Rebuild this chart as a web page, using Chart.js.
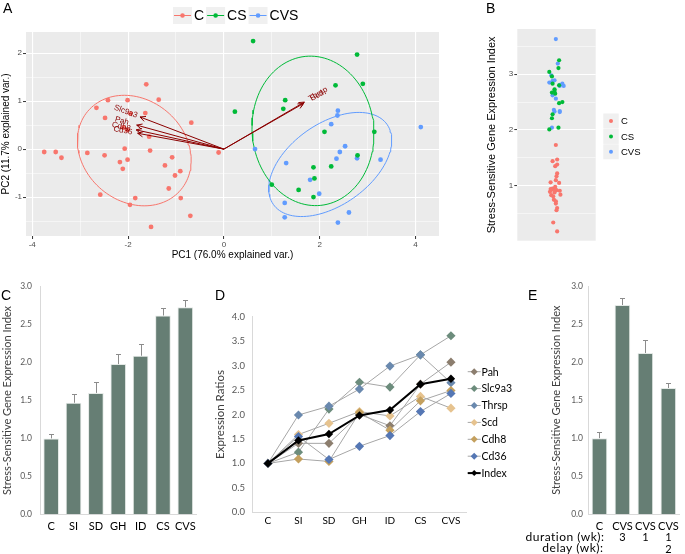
<!DOCTYPE html>
<html>
<head>
<meta charset="utf-8">
<script src="https://cdn.jsdelivr.net/npm/chart.js@4.4.1/dist/chart.umd.min.js"></script>
<style>
  body { margin: 0; background: #fff; }
  #wrap { position: relative; width: 685px; height: 554px; overflow: hidden; }
  canvas { position: absolute; }
  .tag { position: absolute; font-family: 'Liberation Sans', Arial, sans-serif; font-size: 14px; color: #000; }
</style>
</head>
<body>
<div id="wrap">
  <canvas id="pca" width="450" height="265" style="left:0;top:0"></canvas>
  <canvas id="idx" width="225" height="250" style="left:460px;top:0"></canvas>
  <canvas id="barC" width="210" height="274" style="left:0;top:280px"></canvas>
  <canvas id="lineD" width="312" height="274" style="left:213px;top:280px"></canvas>
  <canvas id="barE" width="165" height="274" style="left:520px;top:280px"></canvas>
  <div class="tag" style="left:3px;top:0">A</div>
  <div class="tag" style="left:486px;top:0">B</div>
  <div class="tag" style="left:1px;top:287px">C</div>
  <div class="tag" style="left:215px;top:287px">D</div>
  <div class="tag" style="left:528px;top:287px">E</div>
</div>
<script>
// ---- A: PCA scores [PC1, PC2]
const scoresC = [[-3.75,-0.06],[-3.51,-0.06],[-3.39,-0.18],[-2.85,-0.08],[-2.66,0.86],[-2.58,-0.95],
  [-2.49,-0.13],[-2.48,0.65],[-2.42,1.02],[-2.17,-0.27],[-2.11,-0.41],[-2.07,0.01],[-2.01,1.02],
  [-2.01,-0.22],[-1.96,-1.16],[-1.95,0.74],[-1.85,-1.02],[-1.62,1.35],[-1.64,0.75],[-1.56,0.26],
  [-1.54,-0.03],[-1.52,-1.62],[-1.36,1.03],[-1.23,-0.34],[-1.15,-0.82],[-1.08,-0.17],[-1.02,-0.55],
  [-0.91,-0.46],[-0.90,-1.02],[-0.70,-1.39],[-0.68,0.55],[-0.11,-0.07],[-2.02,0.40],[-2.10,0.45]];
const scoresCS = [[0.61,2.25],[0.23,0.78],[1.00,-0.74],[1.24,0.84],[1.28,1.02],[1.56,-0.85],[1.87,-0.38],
  [1.89,-0.61],[1.87,-1.00],[2.10,0.36],[2.24,-0.36],[2.33,1.33],[2.78,1.97],[2.90,1.36],[2.79,-0.13],[3.14,0.36]];
const scoresCVS = [[0.65,0.00],[1.30,-0.29],[1.27,-1.12],[1.27,-1.42],[1.80,-0.64],[1.99,-0.93],[2.24,0.52],
  [2.35,-0.20],[2.37,0.70],[2.38,0.80],[2.42,-0.06],[2.53,0.06],[2.38,-1.53],[2.61,-1.32],[2.78,-0.19],
  [3.27,-0.22],[4.11,0.46]];
const groups = ['C', 'CS', 'CVS'];
// normal-data ellipses per group: centre, semi-axes, angle (deg)
const ellCx = [-1.87, 1.86, 2.22];
const ellCy = [-0.03, 0.38, -0.32];
const ellA = [1.27, 1.56, 1.45];
const ellB = [1.06, 1.27, 0.85];
const ellAngle = [-40, 96, 35];
// variable loadings
const geneArrows = ['Slc9a3', 'Pah', 'Cdh8', 'Cd36', 'Thrsp', 'Scd'];
const loadPC1 = [-1.75, -1.82, -1.83, -1.80, 1.68, 1.66];
const loadPC2 = [0.67, 0.50, 0.40, 0.33, 0.98, 0.95];
const pcaXTicks = [-4, -3, -2, -1, 0, 1, 2, 3, 4];
const pcaYTicks = [-1.5, -1, -0.5, 0, 0.5, 1, 1.5, 2];

// ---- B: index per animal [jitter, index]
const idxC = [[0.99,1.73],[1.01,1.47],[0.94,1.44],[1.01,1.38],[0.98,1.35],[1.01,1.22],[1.00,1.17],[0.99,1.10],
  [0.91,1.06],[1.04,1.05],[0.94,0.95],[0.91,0.94],[0.97,0.94],[1.00,0.92],[1.05,0.91],[0.90,0.89],[0.97,0.88],
  [1.06,0.84],[0.95,0.81],[0.96,0.75],[0.99,0.68],[1.01,0.60],[1.00,0.56],[0.95,0.34],[1.01,0.18],[0.93,0.93],
  [0.98,0.98],[0.92,0.83],[0.99,0.72]];
const idxCS = [[1.04,3.25],[1.03,3.11],[0.89,3.04],[0.93,2.96],[0.94,2.83],[0.97,2.73],[0.93,2.67],[0.98,2.65],
  [1.04,2.48],[1.09,2.50],[0.94,2.28],[0.93,2.21],[1.03,2.04],[0.89,2.01],[1.04,2.80],[0.97,2.70]];
const idxCVS = [[0.99,3.63],[1.02,3.19],[0.92,2.98],[0.89,2.85],[0.94,2.88],[1.09,2.83],[1.05,2.79],[1.11,2.79],
  [0.94,2.62],[0.99,2.56],[0.96,2.36],[0.97,2.33],[1.05,2.32],[0.93,2.04],[1.05,2.81],[0.97,2.89],[1.05,2.34]];
const idxYTicks = [0.5, 1, 1.5, 2, 2.5, 3, 3.5];

// ---- C: index by stressor
const cCats = ['C', 'SI', 'SD', 'GH', 'ID', 'CS', 'CVS'];
const cIndex = [1.00, 1.47, 1.60, 1.98, 2.09, 2.62, 2.73];
const cSem = [0.06, 0.11, 0.15, 0.13, 0.16, 0.10, 0.09];

// ---- D: expression ratios
const dCats = ['C', 'SI', 'SD', 'GH', 'ID', 'CS', 'CVS'];
const dPah = [1.00, 1.41, 1.41, 2.00, 1.77, 2.62, 3.07];
const dSlc9a3 = [1.00, 1.23, 2.11, 2.66, 2.56, 3.22, 3.61];
const dThrsp = [1.00, 1.99, 2.17, 2.52, 2.99, 3.22, 2.65];
const dScd = [1.00, 1.59, 1.82, 2.06, 1.97, 2.37, 2.13];
const dCdh8 = [1.00, 1.09, 1.04, 2.04, 1.68, 2.28, 2.49];
const dCd36 = [1.00, 1.55, 1.08, 1.35, 1.57, 2.06, 2.43];
const dIndex = [1.00, 1.47, 1.60, 1.98, 2.09, 2.62, 2.73];

// ---- E: duration / delay
const eGroup = ['C', 'CVS', 'CVS', 'CVS'];
const eDuration = ['', '3', '1', '1'];
const eDelay = ['', '', '', '2'];
const eIndex = [1.00, 2.75, 2.12, 1.66];
const eSem = [0.08, 0.09, 0.17, 0.06];

const GG = ['#F8766D', '#00BA38', '#619CFF'];
const SANS = "'Liberation Sans', Arial, sans-serif";
Chart.defaults.font.family = 'Lato, sans-serif';
Chart.defaults.animation = false;
Chart.defaults.plugins.legend.display = false;
Chart.defaults.plugins.tooltip.enabled = false;

const panelBg = {
  id: 'panelBg',
  beforeDraw(chart) {
    const a = chart.chartArea, ctx = chart.ctx;
    ctx.save(); ctx.fillStyle = '#EBEBEB';
    ctx.fillRect(a.left, a.top, a.right - a.left, a.bottom - a.top);
    ctx.restore();
  }
};

function ellipse(i) {
  const pts = [], th = ellAngle[i] * Math.PI / 180;
  for (let k = 0; k <= 120; k++) {
    const t = k / 120 * 2 * Math.PI;
    const u = ellA[i] * Math.cos(t), v = ellB[i] * Math.sin(t);
    pts.push({ x: ellCx[i] + u * Math.cos(th) - v * Math.sin(th), y: ellCy[i] + u * Math.sin(th) + v * Math.cos(th) });
  }
  return pts;
}
const toXY = arr => arr.map(p => ({ x: p[0], y: p[1] }));

const ggAxis = (min, max, ticks, isMajor, title, fit) => ({
  type: 'linear', min, max,
  afterBuildTicks: s => { s.ticks = ticks.map(v => ({ value: v })); },
  afterFit: fit,
  border: { display: false },
  grid: {
    color: '#fff', tickLength: 3, tickWidth: 1,
    lineWidth: c => (c.tick && isMajor(c.tick.value)) ? 1.1 : 0.5,
    tickColor: c => (c.tick && isMajor(c.tick.value)) ? '#333' : 'rgba(0,0,0,0)'
  },
  ticks: { color: '#4D4D4D', font: { family: SANS, size: 8 }, padding: 1, autoSkip: false,
    callback: v => isMajor(v) ? String(v) : '' },
  title: title
});

// ---------------- A
const pcaExtras = {
  id: 'pcaExtras',
  afterDatasetsDraw(chart) {
    const ctx = chart.ctx, xs = chart.scales.x, ys = chart.scales.y;
    const ox = xs.getPixelForValue(0), oy = ys.getPixelForValue(0);
    ctx.save();
    ctx.strokeStyle = '#8B0000'; ctx.fillStyle = '#8B0000'; ctx.lineWidth = 1;
    geneArrows.forEach((g, i) => {
      const ex = xs.getPixelForValue(loadPC1[i]), ey = ys.getPixelForValue(loadPC2[i]);
      const ang = Math.atan2(ey - oy, ex - ox);
      ctx.beginPath(); ctx.moveTo(ox, oy); ctx.lineTo(ex, ey);
      ctx.moveTo(ex, ey); ctx.lineTo(ex - 6 * Math.cos(ang - 0.45), ey - 6 * Math.sin(ang - 0.45));
      ctx.moveTo(ex, ey); ctx.lineTo(ex - 6 * Math.cos(ang + 0.45), ey - 6 * Math.sin(ang + 0.45));
      ctx.stroke();
      const lx = xs.getPixelForValue(loadPC1[i] * 1.17), ly = ys.getPixelForValue(loadPC2[i] * 1.17);
      let rot = ang; if (loadPC1[i] < 0) rot += Math.PI;
      ctx.save(); ctx.translate(lx, ly); ctx.rotate(rot);
      ctx.font = '8px ' + SANS; ctx.textAlign = 'center'; ctx.textBaseline = 'middle';
      ctx.fillText(g, 0, 0); ctx.restore();
    });
    ctx.restore();
  },
  afterDraw(chart) {
    const ctx = chart.ctx;
    ctx.save(); ctx.font = '14px ' + SANS; ctx.textBaseline = 'middle';
    let x = 173;
    groups.forEach((g, i) => {
      ctx.fillStyle = '#F0F0F0'; ctx.fillRect(x, 7, 19, 17);
      ctx.strokeStyle = GG[i]; ctx.lineWidth = 1;
      ctx.beginPath(); ctx.moveTo(x + 1, 15.5); ctx.lineTo(x + 18, 15.5); ctx.stroke();
      ctx.fillStyle = GG[i]; ctx.beginPath(); ctx.arc(x + 9.5, 15.5, 2.3, 0, 2 * Math.PI); ctx.fill();
      ctx.fillStyle = '#000'; ctx.fillText(g, x + 21, 16);
      x += 21 + ctx.measureText(g).width + 2;
    });
    ctx.restore();
  }
};

const scoreSets = [scoresC, scoresCS, scoresCVS];
new Chart(document.getElementById('pca'), {
  type: 'scatter',
  data: {
    datasets: [
      ...scoreSets.map((s, i) => ({ data: toXY(s), backgroundColor: GG[i], pointRadius: 2.4, borderWidth: 0 })),
      ...[0, 1, 2].map(i => ({ data: ellipse(i), showLine: true, borderColor: GG[i], borderWidth: 1, pointRadius: 0, fill: false }))
    ]
  },
  options: {
    responsive: false,
    layout: { padding: { top: 32, right: 11, left: 0, bottom: 0 } },
    scales: {
      x: ggAxis(-4.13, 4.49, pcaXTicks, v => v % 2 === 0,
        { display: true, text: 'PC1 (76.0% explained var.)', color: '#000', font: { family: SANS, size: 10 }, padding: { top: 0, bottom: 4 } },
        s => { s.height = 29; }),
      y: ggAxis(-1.81, 2.44, pcaYTicks, v => Number.isInteger(v),
        { display: true, text: 'PC2 (11.7% explained var.)', color: '#000', font: { family: SANS, size: 10 }, padding: { top: 0, bottom: 0 } },
        s => { s.width = 26; })
    }
  },
  plugins: [panelBg, pcaExtras]
});

// ---------------- B
const idxLegend = {
  id: 'idxLegend',
  afterDraw(chart) {
    const ctx = chart.ctx;
    ctx.save(); ctx.font = '9.5px ' + SANS; ctx.textBaseline = 'middle';
    groups.forEach((g, i) => {
      const y = 113.5 + i * 15.4;
      ctx.fillStyle = '#F0F0F0'; ctx.fillRect(143.3, y, 15.4, 15);
      ctx.fillStyle = GG[i]; ctx.beginPath(); ctx.arc(151, y + 7.5, 2, 0, 2 * Math.PI); ctx.fill();
      ctx.fillStyle = '#000'; ctx.fillText(g, 161, y + 8);
    });
    ctx.restore();
  }
};
new Chart(document.getElementById('idx'), {
  type: 'scatter',
  data: { datasets: [idxC, idxCS, idxCVS].map((s, i) => ({ data: toXY(s), backgroundColor: GG[i], pointRadius: 2.1, borderWidth: 0 })) },
  options: {
    responsive: false,
    layout: { padding: { top: 29, right: 89.3, left: 0, bottom: 9.3 } },
    scales: {
      x: { type: 'linear', min: 0.4, max: 1.6, display: false },
      y: ggAxis(0.014, 3.81, idxYTicks, v => Number.isInteger(v),
        { display: true, text: 'Stress-Sensitive Gene Expression Index', color: '#000', font: { family: SANS, size: 11 }, padding: { top: 25, bottom: 0 } },
        s => { s.width = 57.3; })
    }
  },
  plugins: [panelBg, idxLegend]
});

// ---------------- C and E bars
const errBars = sem => ({
  id: 'errBars',
  afterDatasetsDraw(chart) {
    const meta = chart.getDatasetMeta(0), ys = chart.scales.y, ctx = chart.ctx;
    const vals = chart.data.datasets[0].data;
    ctx.save(); ctx.strokeStyle = '#8C8C8C'; ctx.lineWidth = 1;
    meta.data.forEach((bar, i) => {
      const x = Math.round(bar.x) + 0.5;
      const y0 = ys.getPixelForValue(vals[i]), y1 = Math.round(ys.getPixelForValue(vals[i] + sem[i])) + 0.5;
      ctx.beginPath(); ctx.moveTo(x, y0); ctx.lineTo(x, y1);
      ctx.moveTo(x - 2.5, y1); ctx.lineTo(x + 2.5, y1); ctx.stroke();
    });
    ctx.restore();
  }
});

function excelY(title, w, tickPad, titlePad) {
  return {
    min: 0, max: 3,
    afterFit: s => { s.width = w; s.paddingTop = 0; s.paddingBottom = 0; },
    grid: { display: false, drawTicks: false },
    border: { display: true, color: '#D9D9D9' },
    ticks: { stepSize: 0.5, color: '#595959', font: { size: 8.5 }, padding: tickPad, callback: v => v.toFixed(1) },
    title: { display: true, text: title, color: '#404040', font: { size: 11 }, padding: { top: titlePad, bottom: 0 } }
  };
}
function excelX(h) {
  return {
    afterFit: s => { s.height = h; },
    grid: { display: false, drawTicks: false },
    border: { display: true, color: '#D9D9D9' },
    ticks: { color: '#000', font: { size: 11, lineHeight: 1.05 }, padding: 6, autoSkip: false, maxRotation: 0 }
  };
}
const BAR = '#667E74';

new Chart(document.getElementById('barC'), {
  type: 'bar',
  data: { labels: cCats, datasets: [{ data: cIndex, backgroundColor: BAR, borderColor: '#E4E9E6', borderWidth: 1, categoryPercentage: 1, barPercentage: 0.7 }] },
  options: {
    responsive: false,
    layout: { padding: { top: 6.7, right: 13.5, left: 0, bottom: 0 } },
    scales: { x: excelX(39.7), y: excelY('Stress-Sensitive Gene Expression Index', 40, 8, 0.5) }
  },
  plugins: [errBars(cSem)]
});

const eTitle = {
  id: 'eTitle',
  afterDraw(chart) {
    const ctx = chart.ctx;
    ctx.save(); ctx.font = '12px Lato, sans-serif'; ctx.fillStyle = '#000';
    ctx.letterSpacing = '0.5px';
    ctx.textAlign = 'right'; ctx.textBaseline = 'middle';
    ctx.fillText('duration (wk):', 84.5, 257.3);
    ctx.fillText('delay (wk):', 83.5, 268.5);
    ctx.restore();
  }
};
new Chart(document.getElementById('barE'), {
  type: 'bar',
  data: { labels: eGroup.map((g, i) => [g, eDuration[i], eDelay[i]]),
    datasets: [{ data: eIndex, backgroundColor: BAR, borderColor: '#E4E9E6', borderWidth: 1, categoryPercentage: 1, barPercentage: 0.68 }] },
  options: {
    responsive: false,
    layout: { padding: { top: 6, right: 3, left: 0, bottom: 0 } },
    scales: { x: excelX(39.7), y: excelY('Stress-Sensitive Gene Expression Index', 68, 5, 30) }
  },
  plugins: [errBars(eSem), eTitle]
});

// ---------------- D
const geneNames = ['Pah', 'Slc9a3', 'Thrsp', 'Scd', 'Cdh8', 'Cd36'];
const geneSeries = [dPah, dSlc9a3, dThrsp, dScd, dCdh8, dCd36];
const geneColors = ['#8C7E6E', '#6C8C7C', '#6A89AE', '#E6C38F', '#C4A05E', '#5577B4'];
const dLegend = {
  id: 'dLegend',
  afterDraw(chart) {
    const ctx = chart.ctx;
    ctx.save(); ctx.font = '10.5px Lato, sans-serif'; ctx.textBaseline = 'middle';
    const names = [...geneNames, 'Index'];
    names.forEach((n, i) => {
      const y = 91.7 + i * 16.9, isIdx = n === 'Index';
      ctx.strokeStyle = isIdx ? '#000' : '#A6A6A6'; ctx.lineWidth = isIdx ? 2 : 1;
      ctx.beginPath(); ctx.moveTo(254.7, y); ctx.lineTo(267.7, y); ctx.stroke();
      ctx.fillStyle = isIdx ? '#000' : geneColors[i];
      const r = isIdx ? 3 : 3.5;
      ctx.beginPath(); ctx.moveTo(261.2, y - r); ctx.lineTo(261.2 + r, y); ctx.lineTo(261.2, y + r); ctx.lineTo(261.2 - r, y); ctx.closePath(); ctx.fill();
      ctx.fillStyle = '#000'; ctx.fillText(n, 268.5, y + 0.5);
    });
    ctx.restore();
  }
};
new Chart(document.getElementById('lineD'), {
  type: 'line',
  data: {
    labels: dCats,
    datasets: [
      ...geneSeries.map((s, i) => ({ label: geneNames[i], data: s, order: 10 - i, borderColor: '#A6A6A6', borderWidth: 1,
        pointStyle: 'rectRot', pointRadius: 4.6, pointBackgroundColor: geneColors[i], pointBorderColor: geneColors[i], pointBorderWidth: 0 })),
      { label: 'Index', data: dIndex, order: 0, borderColor: '#000', borderWidth: 2,
        pointStyle: 'rectRot', pointRadius: 4.2, pointBackgroundColor: '#000', pointBorderColor: '#000', pointBorderWidth: 0 }
    ]
  },
  options: {
    responsive: false,
    layout: { padding: { top: 36.7, right: 58.8, left: 0, bottom: 0 } },
    scales: {
      x: { offset: true, afterFit: s => { s.height = 41.7; }, grid: { display: false, drawTicks: false },
        border: { display: true, color: '#D9D9D9' },
        ticks: { color: '#000', font: { size: 10 }, padding: 2, autoSkip: false, maxRotation: 0 } },
      y: { min: 0, max: 4, afterFit: s => { s.width = 39.7; }, grid: { display: false, drawTicks: false },
        border: { display: true, color: '#D9D9D9' },
        ticks: { stepSize: 0.5, color: '#595959', font: { size: 9.5 }, padding: 7.7, callback: v => v.toFixed(1) },
        title: { display: true, text: 'Expression Ratios', color: '#404040', font: { size: 11.5 }, padding: { top: 0, bottom: 0 } } }
    }
  },
  plugins: [dLegend]
});
</script>
</body>
</html>
